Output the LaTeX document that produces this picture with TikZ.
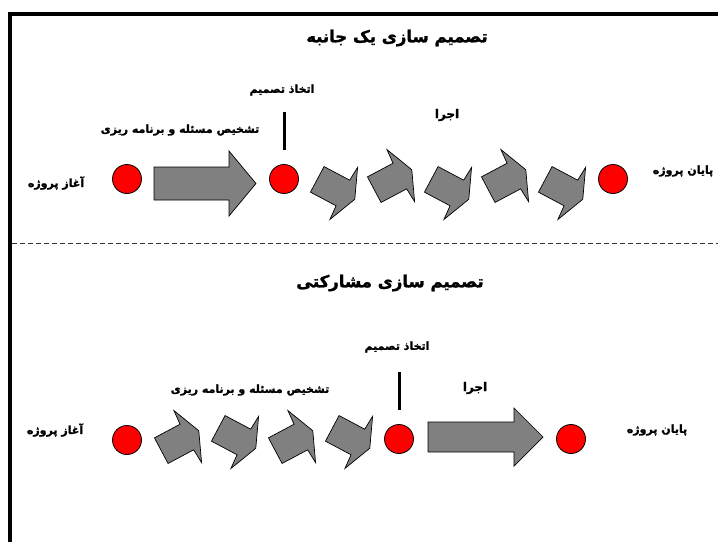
\documentclass[tikz,border=0pt]{standalone}
\usepackage{fontspec}
\newfontfamily\fa[Script=Arabic, BoldFeatures={FakeBold=1.6}]{DejaVu Sans}
\TeXXeTstate=1
\definecolor{arrgray}{RGB}{128,128,128}
\newcommand\fat[1]{\fa\bfseries\beginR #1\endR}
\newcommand\chev[3]{\path[blk, shift={(#1,#2)}, rotate=#3] (0,14.5) -- (29,14.5) -- (30,29.5) -- (42.5,0) -- (30,-29.5) -- (29,-14.5) -- (0,-14.5) -- cycle;}
\begin{document}
\begin{tikzpicture}[x=1pt,y=-1pt,
  lbl/.style={font=\fontsize{11}{13}\selectfont, inner sep=0pt},
  ttl/.style={font=\fontsize{16.5}{18}\selectfont, inner sep=0pt},
  dot/.style={circle, fill=red, draw=black, line width=0.8pt, minimum size=29pt, inner sep=0pt},
  blk/.style={fill=arrgray, draw=black, line width=0.7pt, line join=miter},
  tick/.style={line width=3pt},
  frame/.style={line width=4pt}]
\useasboundingbox (0,0) rectangle (718,542);
\fill[white] (0,0) rectangle (718,542);
% frame
\draw[frame] (10,542) -- (10,14) -- (718,14);
% separator
\draw[dash pattern=on 4.5pt off 3.5pt, line width=0.7pt, black!80] (12,243) -- (718,243);

% ---------- top: unilateral ----------
\node[ttl] (t1) at (397,38) {\fat{تصمیم سازی یک جانبه}};
\node[lbl] (d1) at (282,90) {\fat{اتخاذ تصمیم}};
\node[lbl] (p1) at (180,130) {\fat{تشخیص مسئله و برنامه ریزی}};
\node[lbl] (s1) at (56,183) {\fat{آغاز پروژه}};
\node[lbl, font=\fontsize{12}{14}\selectfont] (e1) at (447,115) {\fat{اجرا}};
\node[lbl] (f1) at (683,171) {\fat{پایان پروژه}};
\node[dot] (a1) at (127,179) {};
\node[dot] (b1) at (284,179) {};
\node[dot] (c1) at (613,179) {};
\coordinate (k1) at (284,112);
\coordinate (k1b) at (284,150);
\draw[tick] (k1) -- (k1b);
\path[blk] (154,167) -- (229,167) -- (229,151) -- (256,183.5) -- (229,216) -- (229,200) -- (154,200) -- cycle;
\chev{317.25}{179.35}{-28}
\chev{374.25}{189.65}{28}
\chev{431.25}{179.35}{-28}
\chev{488.25}{189.65}{28}
\chev{545.25}{179.35}{-28}

% ---------- bottom: participatory ----------
\node[ttl] (t2) at (390,283) {\fat{تصمیم سازی مشارکتی}};
\node[lbl] (d2) at (397,347) {\fat{اتخاذ تصمیم}};
\node[lbl] (p2) at (250,390) {\fat{تشخیص مسئله و برنامه ریزی}};
\node[lbl] (s2) at (55,430) {\fat{آغاز پروژه}};
\node[lbl, font=\fontsize{12}{14}\selectfont] (e2) at (475,388) {\fat{اجرا}};
\node[lbl] (f2) at (657,430) {\fat{پایان پروژه}};
\node[dot] (a2) at (127,440) {};
\node[dot] (b2) at (399,439) {};
\node[dot] (c2) at (571,439) {};
\coordinate (k2) at (399,372);
\coordinate (k2b) at (399,410);
\draw[tick] (k2) -- (k2b);
\chev{161.25}{450.65}{28}
\chev{218.25}{428.35}{-28}
\chev{275.25}{450.65}{28}
\chev{332.25}{428.35}{-28}
\path[blk] (428,422) -- (514,422) -- (514,408) -- (543,437) -- (514,466) -- (514,452) -- (428,452) -- cycle;
\end{tikzpicture}
\end{document}
